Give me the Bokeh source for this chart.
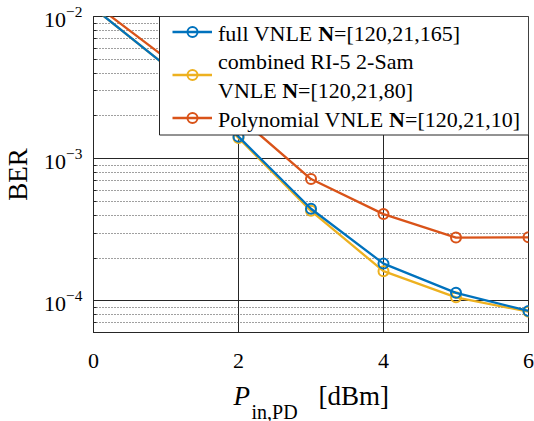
import math
from bokeh.plotting import figure
from bokeh.models import FixedTicker, Label, BoxAnnotation, Legend, LegendItem
from bokeh.core.properties import value
from bokeh.embed import file_html
from bokeh.resources import INLINE

# ---- data ----
power_dbm = [0, 1, 2, 3, 4, 5, 6]
ber_full = [1.15e-2, 4.5e-3, 1.43e-3, 4.45e-4, 1.83e-4, 1.14e-4, 8.5e-5]
ber_combined = [1.15e-2, 4.5e-3, 1.40e-3, 4.3e-4, 1.62e-4, 1.06e-4, 8.4e-5]
ber_poly = [1.24e-2, 5.1e-3, 1.98e-3, 7.2e-4, 4.08e-4, 2.79e-4, 2.8e-4]
x_ticks = [0, 2, 4, 6]
y_major = [1e-4, 1e-3, 1e-2]
y_minor = [m * 10.0 ** e for e in (-5, -4, -3) for m in range(2, 10)]

BLUE, ORANGE, YELLOW = "#0072BD", "#D95319", "#EDB120"
SERIF = "Liberation Serif"
INK = "#262626"

FL, FT, FW, FH = 93, 16, 435, 316   # frame left/top in page px, frame size
FB = FT + FH

p = figure(frame_width=FW, frame_height=FH, x_range=(0, 6), y_range=(6e-5, 1e-2),
           y_axis_type="log", output_backend="svg", toolbar_location=None,
           min_border_left=FL, min_border_right=534 - FL - FW, min_border_top=FT,
           min_border_bottom=421 - FB)
p.background_fill_color = "white"
p.border_fill_color = "white"
p.outline_line_color = INK
p.outline_line_width = 1

# axes
p.xaxis.ticker = FixedTicker(ticks=x_ticks)
p.yaxis.ticker = FixedTicker(ticks=y_major, minor_ticks=y_minor)
for ax in (p.xaxis[0], p.yaxis[0]):
    ax.axis_line_color = INK
    ax.major_tick_line_color = INK
    ax.minor_tick_line_color = INK
    ax.major_tick_in = 5
    ax.major_tick_out = 0
    ax.minor_tick_in = 3
    ax.minor_tick_out = 0
    ax.major_label_text_font = SERIF
    ax.major_label_text_font_size = "22px"
    ax.major_label_text_color = "black"
p.xaxis.major_label_standoff = 21
p.yaxis.major_label_standoff = 11
p.yaxis.axis_label = "BER"
p.yaxis.axis_label_text_font = SERIF
p.yaxis.axis_label_text_font_size = "27px"
p.yaxis.axis_label_text_font_style = "normal"
p.yaxis.axis_label_text_color = "black"
p.yaxis.axis_label_standoff = 8

# grids
p.xgrid.ticker = FixedTicker(ticks=x_ticks)
p.xgrid.grid_line_color = INK
p.xgrid.grid_line_width = 1
p.ygrid.grid_line_color = INK
p.ygrid.grid_line_width = 1
p.ygrid.minor_grid_line_color = "#404040"
p.ygrid.minor_grid_line_dash = "1 2"
p.ygrid.minor_grid_line_width = 1

# series (drawn so that blue ends up on top)
series = [("poly", ber_poly, ORANGE), ("comb", ber_combined, YELLOW), ("full", ber_full, BLUE)]
rend = {}
for key, ys, col in series:
    l = p.line(power_dbm, ys, line_color=col, line_width=2.3)
    s = p.scatter(power_dbm, ys, marker="circle", size=10, line_color=col,
                  line_width=2, fill_color=None)
    rend[key] = [l, s]

# helpers: page px -> frame-relative screen units
def sx(px):
    return px - FL

def sy(py):
    return FB - py

# legend box
p.add_layout(BoxAnnotation(left=sx(159), right=sx(528), top=sy(16), bottom=sy(134.5),
                           left_units="screen", right_units="screen",
                           top_units="screen", bottom_units="screen",
                           fill_color="white", fill_alpha=1.0,
                           line_color=INK, line_width=1, line_alpha=1.0))

# legend swatches
GH, SP = 25, 18
leg = Legend(items=[LegendItem(label=value(" "), renderers=rend["full"]),
                    LegendItem(label=value(" "), renderers=rend["comb"]),
                    LegendItem(label=value(" "), renderers=rend["poly"])],
             location=(sx(172), sy(31 - GH / 2 + 3 * GH + 2 * SP)),
             glyph_width=40, glyph_height=GH, label_height=GH, label_width=1,
             label_standoff=0, spacing=SP, padding=0, margin=0,
             label_text_font_size="4px", border_line_alpha=0,
             background_fill_alpha=0)
p.add_layout(leg)

# legend texts (Times metrics, per 1000 em)
W = {" ": 250, "f": 333, "u": 500, "l": 278, "V": 722, "N": 722, "L": 611, "E": 611,
     "P": 556, "o": 500, "y": 500, "n": 500, "m": 778, "i": 278, "a": 444}
YFIX = 9  # empirical offset of rendered alphabetic baseline

def width(s, size):
    return sum(W[c] for c in s) * size / 1000.0

def label(px, py, s, size=22, style="normal", panel_bottom=None):
    if panel_bottom is None:
        yy = sy(py - YFIX)
    else:
        yy = panel_bottom + YFIX - py
    lab = Label(x=sx(px), y=yy, x_units="screen", y_units="screen",
                text=s, text_font=SERIF, text_font_size=f"{size}px",
                text_font_style=style, text_align="left",
                text_baseline="alphabetic", text_color="black")
    if panel_bottom is None:
        p.add_layout(lab)
    else:
        p.add_layout(lab, "below")

legend_rows = [(41.5, "full VNLE ", "=[120,21,165]"),
               (70.0, "combined RI-5 2-Sam", None),
               (99.0, "VNLE ", "=[120,21,80]"),
               (128.0, "Polynomial VNLE ", "=[120,21,10]")]
X0 = 217.5
for base, head, tail in legend_rows:
    label(X0, base, head)
    if tail is not None:
        xn = X0 + width(head, 22)
        label(xn, base, "N", style="bold")
        label(xn + width("N", 22), base, tail)

# x-axis title: P_{in,PD}  [dBm]  (each piece sits in its own stacked panel below the axis)
label(233, 401, "P", size=27, style="italic", panel_bottom=397)
label(251, 417, "in,PD", size=20, panel_bottom=419)
label(318, 401, "[dBm]", size=27, panel_bottom=449)

open("out.html", "w").write(file_html(p, INLINE))
